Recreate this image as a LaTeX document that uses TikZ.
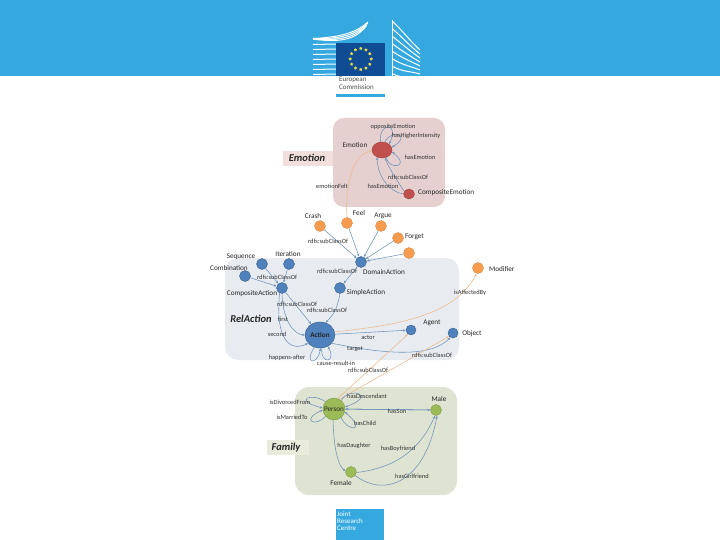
\documentclass[tikz,border=0pt]{standalone}
\usepackage{fontspec}
\setmainfont{Carlito}
\usetikzlibrary{shapes.geometric,arrows.meta}
\definecolor{hdr}{HTML}{35A9DF}
\definecolor{euflag}{HTML}{0F4C93}
\definecolor{euyel}{HTML}{E6D94A}
\definecolor{emobg}{HTML}{E6D0CF}
\definecolor{emotag}{HTML}{F2DFDD}
\definecolor{relbg}{HTML}{E8ECF0}
\definecolor{fambg}{HTML}{DFE3D1}
\definecolor{famtag}{HTML}{E9ECDC}
\definecolor{txt}{HTML}{333333}
\definecolor{bl}{HTML}{4F81BD}
\definecolor{bld}{HTML}{385D8A}
\definecolor{ora}{HTML}{F79B4F}
\definecolor{orad}{HTML}{D98A4A}
\definecolor{rd}{HTML}{C0504D}
\definecolor{rdd}{HTML}{9E3F3C}
\definecolor{gr}{HTML}{9BBB59}
\definecolor{grd}{HTML}{7E9A48}
\definecolor{edgeb}{HTML}{6E93BC}
\definecolor{edgeo}{HTML}{EDB98C}
\tikzset{
 lbl/.style={font=\fontsize{6.4}{7}\selectfont,text=txt,inner sep=0pt},
 nlbl/.style={font=\fontsize{7.2}{8}\selectfont,text=black!85,inner sep=0pt},
 tagt/.style={font=\fontsize{10.5}{11}\selectfont\bfseries\itshape,text=black!85,inner sep=0pt},
 orn/.style={circle,fill=ora,draw=orad,line width=.4pt,minimum size=11pt,inner sep=0pt},
 bln/.style={circle,fill=bl,draw=bld,line width=.4pt,minimum size=11pt,inner sep=0pt},
 rdn/.style={ellipse,fill=rd,draw=rdd,line width=.4pt,inner sep=0pt},
 grn/.style={circle,fill=gr,draw=grd,line width=.4pt,inner sep=0pt},
 eb/.style={draw=edgeb,line width=.55pt,-{Stealth[length=3pt,width=2.4pt]}},
 eo/.style={draw=edgeo,line width=.55pt,-{Stealth[length=3pt,width=2.4pt]}},
 logotxt/.style={font=\fontsize{7}{8}\selectfont,text=black!70,inner sep=0pt,align=left,anchor=north west},
 jrctxt/.style={font=\fontsize{7}{7}\selectfont,text=white,inner sep=0pt,align=left,anchor=north west},
 stripe/.style={draw=white,line width=1pt},
}
\begin{document}
\begin{tikzpicture}[x=1pt,y=-1pt]
\useasboundingbox (0,0) rectangle (720,540);
\fill[white] (0,0) rectangle (720,540);
% header
\fill[hdr] (0,0) rectangle (720,76);
\begin{scope}
\clip (300,0) rectangle (430,76);
\foreach \k in {0,...,7} \draw[stripe] (313,{39.5+\k*5}) -- (337,{39+\k*5});
\foreach \k in {0,...,3} \draw[stripe] (313,{38.5+\k*0.2}) .. controls (345,{37+\k*2.2}) and (358,{31+\k*2}) .. ({368-\k*0.5},{22+\k*1.2});
\foreach \k in {0,...,7} \draw[stripe] (392,{21+\k*7.5}) .. controls (402,{30+\k*7}) and (410,{41+\k*5}) .. (420,{50+\k*4});
\draw[stripe] (392,20) -- (392,76);
\end{scope}
\fill[euflag] (336,43) rectangle (385,76);
\foreach \a in {0,30,...,330}
  \node[star,star points=5,fill=euyel,minimum size=3.4pt,inner sep=0pt] (st\a) at ({360.7+10.5*cos(\a)},{59-10.5*sin(\a)}) {};
\node[logotxt] (ec) at (339,77) {European\\Commission};
\fill[hdr] (336,94) rectangle (385,97);
% JRC
\fill[hdr] (336,509) rectangle (384,540);
\node[jrctxt] (jrc) at (337,511) {Joint\\Research\\Centre};
% backgrounds
\fill[emobg,rounded corners=11pt] (333,118) rectangle (445,207);
\fill[emotag] (283,151) rectangle (333,166);
\fill[relbg,rounded corners=13pt] (225,258) rectangle (459,360);
\fill[fambg,rounded corners=14pt] (295,387) rectangle (457,495);
\fill[famtag] (267,440) rectangle (309,455);
% tags
\node[tagt] (tEmo) at (307,158) {Emotion};
\node[tagt] (tRel) at (251,319) {RelAction};
\node[tagt] (tFam) at (286,448) {Family};
% nodes
\node[rdn,minimum width=20pt,minimum height=16pt] (Emo) at (382,150) {};
\node[rdn,minimum width=11pt,minimum height=10pt] (CE) at (409,194) {};
\node[orn] (Crash) at (320,226) {};
\node[orn] (Feel) at (347,223) {};
\node[orn] (Argue) at (381,226) {};
\node[orn] (Forget) at (398,238) {};
\node[orn] (Un) at (409,253) {};
\node[orn] (Mod) at (478,268) {};
\node[bln] (DA) at (361,262) {};
\node[bln] (Seq) at (262,264) {};
\node[bln] (Iter) at (289,264) {};
\node[bln] (Comb) at (245,276) {};
\node[bln] (CA) at (282,288) {};
\node[bln] (SA) at (340,288) {};
\node[bln,ellipse,minimum width=30pt,minimum height=26pt] (Act) at (320,335) {};
\node[bln,minimum size=10pt] (Ag) at (411,330) {};
\node[bln,minimum size=10pt] (Ob) at (453,333) {};
\node[grn,minimum size=22pt] (Per) at (334,409) {};
\node[grn,minimum size=11pt] (Male) at (436,410) {};
\node[grn,minimum size=11pt] (Fem) at (351,472) {};
% edges: emotion
\draw[eb] (Emo.100) .. controls (378,122) and (400,122) .. (Emo.40);
\draw[eb] (Emo.70) .. controls (392,128) and (412,135) .. (Emo.15);
\draw[eb] (Emo.-60) .. controls (388,170) and (412,168) .. (Emo.-10);
\draw[eb] (CE.150) .. controls (398,182) and (390,170) .. (Emo.-70);
\draw[eb] (CE.180) .. controls (390,192) and (378,178) .. (Emo.-125);
\draw[eo] (Feel.90) .. controls (345,187) and (352,155) .. (Emo.185);
% edges: domain
\foreach \n in {Crash,Feel,Argue,Forget,Un} \draw[eb] (\n) -- (DA);
\draw[eb] (DA) -- (SA);
\draw[eb] (Seq) -- (CA);
\draw[eb] (Iter) -- (CA);
\draw[eb] (Comb) -- (CA);
\draw[eb] (CA) -- (Act);
\draw[eb] (SA.-90) .. controls (337,310) and (333,315) .. (Act.65);
\draw[eb] (CA.-90) .. controls (283,325) and (297,335) .. (Act.180);
\draw[eb] (CA.-115) .. controls (275,340) and (290,352) .. (Act.-145);
\draw[eb] (Act) -- (Ag);
\draw[eb] (Act.-35) .. controls (385,354) and (430,358) .. (Ob.-120);
\draw[eb] (Act.-115) .. controls (303,365) and (318,365) .. (Act.-88);
\draw[eb] (Act.-82) .. controls (320,365) and (337,363) .. (Act.-55);
\draw[eo] (Act.12) .. controls (400,325) and (455,315) .. (Mod.-105);
\draw[eo] (Per.70) -- (Ag.-125);
\draw[eo] (Per.60) -- (Ob.-140);
% edges: family
\draw[eb] (Per.50) .. controls (350,386) and (378,395) .. (Per.10);
\draw[eb] (Per.-50) .. controls (347,432) and (368,432) .. (Per.-15);
\draw[eb] (Per.140) .. controls (312,392) and (292,400) .. (Per.175);
\draw[eb] (Per.-140) .. controls (316,428) and (300,420) .. (Per.-175);
\draw[eb] (Per) -- (Male);
\draw[eb] (Male) -- (Per);
\draw[eb] (Per.-95) .. controls (334,450) and (338,465) .. (Fem.170);
\draw[eb] (Fem.-5) .. controls (395,468) and (420,450) .. (Male.-100);
\draw[eb] (Fem.-40) .. controls (385,498) and (425,482) .. (Male.-80);
% node labels
\node[nlbl] (lEmo) at (355,145) {Emotion};
\node[nlbl,anchor=west] (lCE) at (418,193) {CompositeEmotion};
\node[nlbl] (lCrash) at (313,216) {Crash};
\node[nlbl] (lFeel) at (359,213) {Feel};
\node[nlbl] (lArgue) at (383,216) {Argue};
\node[nlbl,anchor=west] (lForget) at (405,237) {Forget};
\node[nlbl,anchor=west] (lMod) at (489,269) {Modifier};
\node[nlbl] (lDA) at (384,272) {DomainAction};
\node[nlbl] (lSeq) at (241,257) {Sequence};
\node[nlbl] (lIter) at (288,254) {Iteration};
\node[nlbl] (lComb) at (229,268) {Combination};
\node[nlbl] (lCA) at (252,294) {CompositeAction};
\node[nlbl] (lSA) at (366,293) {SimpleAction};
\node[nlbl,font=\fontsize{7.2}{8}\selectfont\bfseries] (lAct) at (Act) {Action};
\node[nlbl] (lAg) at (432,323) {Agent};
\node[nlbl] (lOb) at (472,334) {Object};
\node[nlbl] (lPer) at (Per) {Person};
\node[nlbl] (lMale) at (439,399) {Male};
\node[nlbl] (lFem) at (341,483) {Female};
% edge labels
\node[lbl] (e1) at (393,127) {oppositeEmotion};
\node[lbl] (e2) at (416,136) {hasHigherIntensity};
\node[lbl] (e3) at (420,157) {hasEmotion};
\node[lbl] (e4) at (408,177) {rdfs:subClassOf};
\node[lbl] (e5) at (383,186) {hasEmotion};
\node[lbl] (e6) at (332,186) {emotionFelt};
\node[lbl] (e7) at (328,241) {rdfs:subClassOf};
\node[lbl] (e8) at (337,271) {rdfs:subClassOf};
\node[lbl] (e9) at (277,277) {rdfs:subClassOf};
\node[lbl] (e10) at (297,304) {rdfs:subClassOf};
\node[lbl] (e11) at (327,310) {rdfs:subClassOf};
\node[lbl] (e12) at (283,319) {first};
\node[lbl] (e13) at (277,334) {second};
\node[lbl] (e14) at (368,337) {actor};
\node[lbl] (e15) at (355,349) {target};
\node[lbl] (e16) at (287,358) {happens-after};
\node[lbl] (e17) at (336,363) {cause-result-in};
\node[lbl] (e18) at (432,355) {rdfs:subClassOf};
\node[lbl] (e19) at (368,370) {rdfs:subClassOf};
\node[lbl] (e20) at (470,293) {isAffectedBy};
\node[lbl] (f1) at (290,402) {isDivorcedFrom};
\node[lbl] (f2) at (292,417) {isMarriedTo};
\node[lbl] (f3) at (367,396) {hasDescendant};
\node[lbl] (f4) at (397,411) {hasSon};
\node[lbl] (f5) at (365,423) {hasChild};
\node[lbl] (f6) at (354,446) {hasDaughter};
\node[lbl] (f7) at (398,449) {hasBoyfriend};
\node[lbl] (f8) at (412,476) {hasGirlfriend};
\end{tikzpicture}
\end{document}
